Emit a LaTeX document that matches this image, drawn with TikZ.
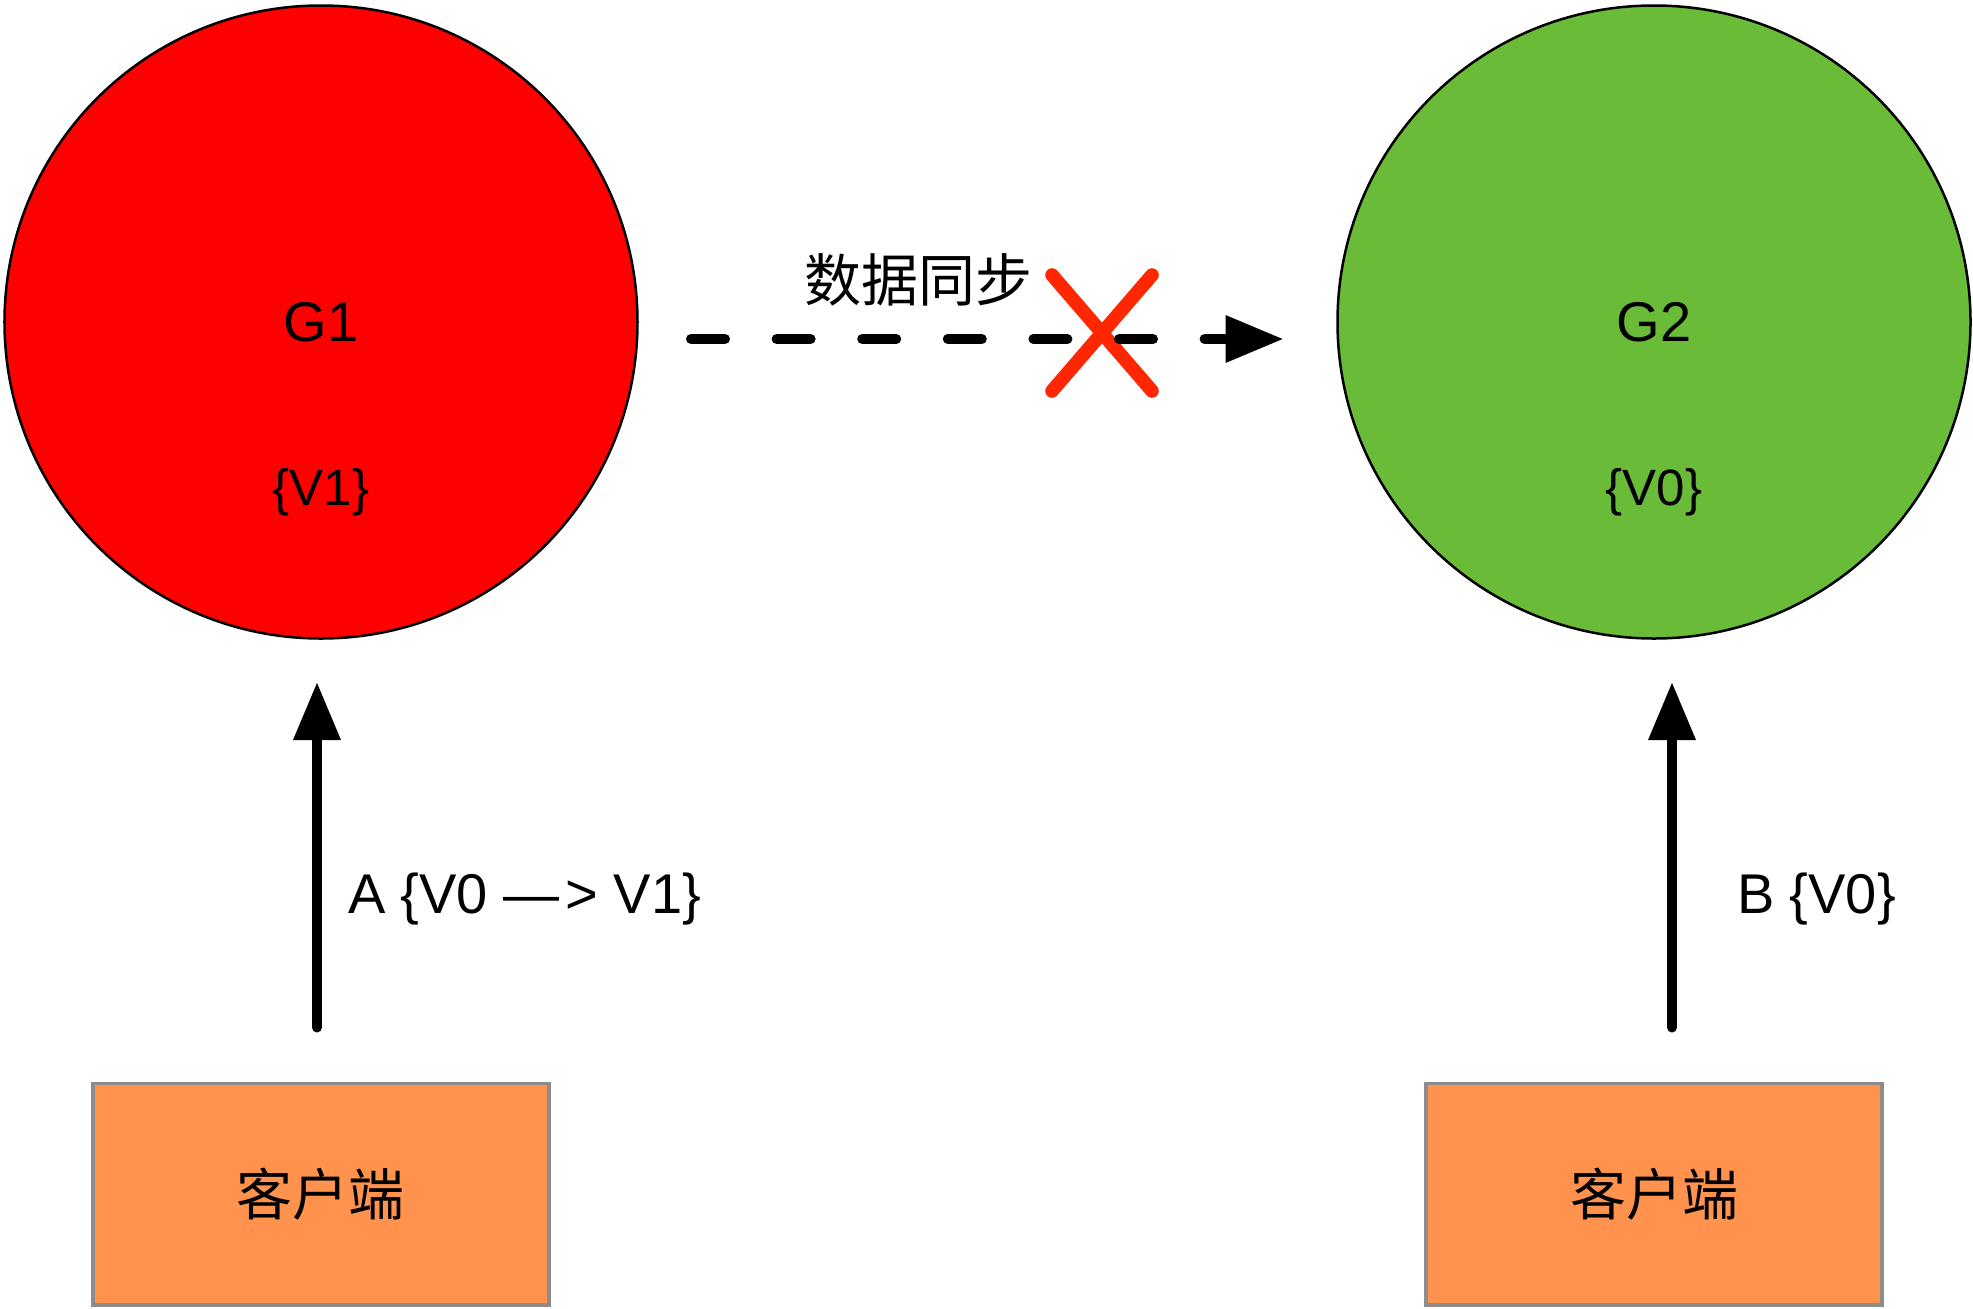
\documentclass[tikz,border=0pt]{standalone}
\usepackage{fontspec}
\setmainfont{Liberation Sans}
\newfontfamily\cjk{Noto Sans CJK SC}
\usetikzlibrary{shapes.misc, positioning}
\usetikzlibrary{arrows.meta}
\tikzset{>={Triangle[width=22.5pt,length=29pt]}}
\definecolor{g1red}{RGB}{255,0,0}
\definecolor{g2green}{RGB}{106,188,56}
\definecolor{clientorange}{RGB}{255,146,77}
\definecolor{crossred}{RGB}{255,38,0}

\begin{document}
\begin{tikzpicture}[ gnode/.style={circle, draw=black, line width=1.25pt, minimum size=316.5pt, inner sep=0pt, outer sep=0pt, font=\fontsize{28}{34}\selectfont},
    client/.style={rectangle, draw=black!45, fill=clientorange, line width=1.9pt, minimum width=228.3pt, minimum height=110.8pt, outer sep=0pt, font=\cjk\fontsize{28}{34}\selectfont},
    valtext/.style={inner sep=0pt, font=\fontsize{25.5}{30}\selectfont},
    edgetext/.style={inner sep=0pt, font=\fontsize{28}{34}\selectfont},
    synctext/.style={inner sep=0pt, font=\cjk\fontsize{28.5}{34}\selectfont},
    cancel/.style={cross out, draw=crossred, line width=6.8pt, line cap=round, minimum width=50pt, minimum height=58pt, inner sep=0pt, outer sep=0pt},
    write/.style={->, line width=5pt, line cap=round},
    sync/.style={->, line width=5pt, line cap=round, dash pattern=on 17pt off 25.8pt} ]

    \useasboundingbox (-160.5pt,-493pt) rectangle (826pt,161pt);

    %Nodes
    \node[gnode, fill=g1red] (g1) {G1};
    \node[gnode, fill=g2green] (g2) [right=350pt of g1] {G2};
    \node[valtext, anchor=base] (val1) at ([yshift=-91.5pt]g1.center) {\{V1\}};
    \node[valtext, anchor=base] (val2) at ([yshift=-91.5pt]g2.center) {\{V0\}};
    \node[client] (client1) [below=222.5pt of g1] {客户端};
    \node[client] (client2) [below=222.5pt of g2] {客户端};
    \node[cancel] (nosync) [right=207.25pt of g1, yshift=-5.5pt] {};

    %Lines
    \draw[sync, shorten <=26.75pt, shorten >=27pt] ([yshift=-8.5pt]g1.east) -- ([yshift=-8.5pt]g2.west)
        node[synctext, pos=0.402, yshift=29.5pt] (sync_label) {数据同步};
    \draw[write, shorten <=28pt, shorten >=21.75pt] ([xshift=-2pt]client1.north) -- ([xshift=-2pt]g1.south)
        node[edgetext, pos=0.415, anchor=west, xshift=13pt] (write_a) {A \{V0 —\kern3pt> V1\}};
    \draw[write, shorten <=28pt, shorten >=21.75pt] ([xshift=9pt]client2.north) -- ([xshift=9pt]g2.south)
        node[edgetext, pos=0.415, anchor=west, xshift=30pt] (write_b) {B \{V0\}};
\end{tikzpicture}
\end{document}
